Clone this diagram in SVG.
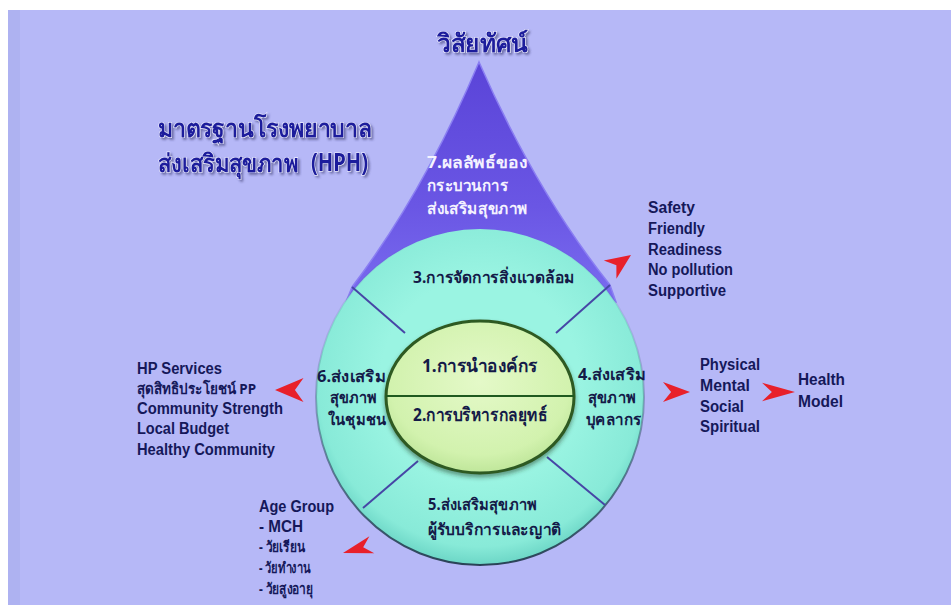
<svg xmlns="http://www.w3.org/2000/svg" width="951" height="605" viewBox="0 0 951 605">
  <defs>
    <linearGradient id="triFill" x1="0" y1="0" x2="0" y2="1">
      <stop offset="0" stop-color="#5a44d8"/>
      <stop offset="0.6" stop-color="#6a56e4"/>
      <stop offset="1" stop-color="#7a6cf0"/>
    </linearGradient>
    <radialGradient id="ringFill" cx="0.5" cy="0.45" r="0.55">
      <stop offset="0.55" stop-color="#9af4e2"/>
      <stop offset="0.9" stop-color="#88ead8"/>
      <stop offset="1" stop-color="#6cd6c6"/>
    </radialGradient>
    <linearGradient id="ringEdge" x1="0" y1="0" x2="0" y2="1">
      <stop offset="0" stop-color="#2a4660" stop-opacity="0"/>
      <stop offset="0.35" stop-color="#2a4660" stop-opacity="0.15"/>
      <stop offset="1" stop-color="#1e3448" stop-opacity="0.9"/>
    </linearGradient>
    <radialGradient id="coreFill" cx="0.5" cy="0.4" r="0.6">
      <stop offset="0" stop-color="#e4f9c8"/>
      <stop offset="0.8" stop-color="#d2f2ae"/>
      <stop offset="1" stop-color="#bfe69a"/>
    </radialGradient>
    <filter id="titleShadow" x="-10%" y="-20%" width="120%" height="150%">
      <feDropShadow dx="2" dy="2" stdDeviation="1" flood-color="#3a3a70" flood-opacity="0.55"/>
    </filter>
    <filter id="coreShadow" x="-10%" y="-10%" width="120%" height="130%">
      <feDropShadow dx="0" dy="3" stdDeviation="2" flood-color="#1e3a20" flood-opacity="0.5"/>
    </filter>
    <!-- arrowhead pointing right, tip at the origin -->
    <path id="arrowHead" d="M0,0 L-30,-11 L-21,0 L-30,11 Z"/>
    <style>
      .bg { fill: #b6b8f7; }
      .th { font-family: "Noto Sans", "DejaVu Sans", sans-serif; font-weight: bold; }
      .title { font-size: 25px; fill: #1e1e9c; stroke: #f0f0ff; stroke-width: 1.2; paint-order: stroke; filter: url(#titleShadow); }
      .tri-label { font-size: 16px; fill: #f4f2ff; }
      .ring-label { font-size: 16px; fill: #141a48; }
      .core-label { font-size: 18px; fill: #141a48; }
      .en { font-family: "Liberation Sans", Arial, sans-serif; font-weight: bold; font-size: 16px; fill: #15185a; }
      .list-th { font-family: "Noto Sans", "DejaVu Sans", sans-serif; font-weight: bold; font-size: 15px; fill: #15185a; }
      .divider { stroke: #4646a6; stroke-width: 2; fill: none; }
      .arrow { fill: #e8202a; }
    </style>
  </defs>

  <!-- page -->
  <rect x="0" y="0" width="951" height="605" fill="#ffffff"/>
  <rect class="bg" x="8" y="10" width="943" height="595"/>
  <rect x="8" y="10" width="12" height="595" fill="#aeb2f1"/>

  <!-- 7: outcome triangle -->
  <g id="node-7">
    <path d="M479,62 Q424,192 352,287 L346,302 L616,302 L610,285 Q536,192 479,62 Z" fill="url(#triFill)" stroke="#8a7ef2" stroke-width="1.5"/>
    <text class="th tri-label" x="427" y="168" textLength="101" lengthAdjust="spacingAndGlyphs">7.ผลลัพธ์ของ</text>
    <text class="th tri-label" x="427" y="191" textLength="81" lengthAdjust="spacingAndGlyphs">กระบวนการ</text>
    <text class="th tri-label" x="427" y="214" textLength="101" lengthAdjust="spacingAndGlyphs">ส่งเสริมสุขภาพ</text>
  </g>

  <!-- outer ring: sectors 3 to 6 -->
  <g id="ring">
    <ellipse cx="480" cy="397" rx="164" ry="168" fill="url(#ringFill)"/>
    <ellipse cx="480" cy="397" rx="164" ry="168" fill="none" stroke="url(#ringEdge)" stroke-width="2"/>
    <line class="divider" x1="352" y1="287" x2="405" y2="333"/>
    <line class="divider" x1="610" y1="285" x2="556" y2="333"/>
    <line class="divider" x1="363" y1="508" x2="418" y2="461"/>
    <line class="divider" x1="605" y1="505" x2="547" y2="457"/>
  </g>
  <g id="node-3">
    <text class="th ring-label" x="413" y="283" textLength="162" lengthAdjust="spacingAndGlyphs">3.การจัดการสิ่งแวดล้อม</text>
  </g>
  <g id="node-4">
    <text class="th ring-label" x="578" y="380" textLength="68" lengthAdjust="spacingAndGlyphs">4.ส่งเสริม</text>
    <text class="th ring-label" x="588" y="403" textLength="48" lengthAdjust="spacingAndGlyphs">สุขภาพ</text>
    <text class="th ring-label" x="586" y="425" textLength="56" lengthAdjust="spacingAndGlyphs">บุคลากร</text>
  </g>
  <g id="node-5">
    <text class="th ring-label" x="428" y="510" textLength="109" lengthAdjust="spacingAndGlyphs">5.ส่งเสริมสุขภาพ</text>
    <text class="th ring-label" x="428" y="535" textLength="133" lengthAdjust="spacingAndGlyphs">ผู้รับบริการและญาติ</text>
  </g>
  <g id="node-6">
    <text class="th ring-label" x="317" y="382" textLength="69" lengthAdjust="spacingAndGlyphs">6.ส่งเสริม</text>
    <text class="th ring-label" x="330" y="403" textLength="47" lengthAdjust="spacingAndGlyphs">สุขภาพ</text>
    <text class="th ring-label" x="328" y="425" textLength="58" lengthAdjust="spacingAndGlyphs">ในชุมชน</text>
  </g>

  <!-- core: sectors 1 and 2 -->
  <g id="core">
    <ellipse cx="480" cy="397" rx="94" ry="76" fill="url(#coreFill)" stroke="#2e5a24" stroke-width="3" filter="url(#coreShadow)"/>
    <line x1="386" y1="396" x2="574" y2="396" stroke="#1f5a1f" stroke-width="2"/>
  </g>
  <g id="node-1">
    <text class="th core-label" x="422" y="372" textLength="116" lengthAdjust="spacingAndGlyphs">1.การนำองค์กร</text>
  </g>
  <g id="node-2">
    <text class="th core-label" x="413" y="421" textLength="134" lengthAdjust="spacingAndGlyphs">2.การบริหารกลยุทธ์</text>
  </g>

  <!-- titles -->
  <g id="vision-title">
    <text class="th title" x="437" y="52" font-size="27" textLength="91" lengthAdjust="spacingAndGlyphs">วิสัยทัศน์</text>
  </g>
  <g id="hph-title">
    <text class="th title" x="158" y="137" textLength="214" lengthAdjust="spacingAndGlyphs">มาตรฐานโรงพยาบาล</text>
    <text class="th title" x="158" y="172" textLength="140" lengthAdjust="spacingAndGlyphs">ส่งเสริมสุขภาพ</text>
    <text class="th title" x="311" y="171" font-size="18" textLength="57" lengthAdjust="spacingAndGlyphs">(HPH)</text>
  </g>

  <!-- outcome lists -->
  <g id="env-list">
    <text class="en" x="648" y="213" textLength="47" lengthAdjust="spacingAndGlyphs">Safety</text>
    <text class="en" x="648" y="234" textLength="57" lengthAdjust="spacingAndGlyphs">Friendly</text>
    <text class="en" x="648" y="255" textLength="74" lengthAdjust="spacingAndGlyphs">Readiness</text>
    <text class="en" x="648" y="275" textLength="85" lengthAdjust="spacingAndGlyphs">No pollution</text>
    <text class="en" x="648" y="296" textLength="78" lengthAdjust="spacingAndGlyphs">Supportive</text>
  </g>
  <g id="staff-list">
    <text class="en" x="700" y="370" textLength="60" lengthAdjust="spacingAndGlyphs">Physical</text>
    <text class="en" x="700" y="391" textLength="50" lengthAdjust="spacingAndGlyphs">Mental</text>
    <text class="en" x="700" y="412" textLength="44" lengthAdjust="spacingAndGlyphs">Social</text>
    <text class="en" x="700" y="432" textLength="60" lengthAdjust="spacingAndGlyphs">Spiritual</text>
  </g>
  <g id="health-model">
    <text class="en" x="798" y="385" textLength="47" lengthAdjust="spacingAndGlyphs">Health</text>
    <text class="en" x="798" y="407" textLength="45" lengthAdjust="spacingAndGlyphs">Model</text>
  </g>
  <g id="community-list">
    <text class="en" x="137" y="374" textLength="85" lengthAdjust="spacingAndGlyphs">HP Services</text>
    <text class="list-th" x="137" y="394" textLength="119" lengthAdjust="spacingAndGlyphs">สุดสิทธิประโยชน์ PP</text>
    <text class="en" x="137" y="414" textLength="146" lengthAdjust="spacingAndGlyphs">Community Strength</text>
    <text class="en" x="137" y="434" textLength="92" lengthAdjust="spacingAndGlyphs">Local Budget</text>
    <text class="en" x="137" y="455" textLength="138" lengthAdjust="spacingAndGlyphs">Healthy Community</text>
  </g>
  <g id="age-list">
    <text class="en" x="259" y="512" textLength="75" lengthAdjust="spacingAndGlyphs">Age Group</text>
    <text class="en" x="259" y="532" textLength="44" lengthAdjust="spacingAndGlyphs">- MCH</text>
    <text class="list-th" x="259" y="552" font-size="16" textLength="46" lengthAdjust="spacingAndGlyphs">- วัยเรียน</text>
    <text class="list-th" x="259" y="573" font-size="16" textLength="51" lengthAdjust="spacingAndGlyphs">- วัยทำงาน</text>
    <text class="list-th" x="259" y="594" font-size="16" textLength="54" lengthAdjust="spacingAndGlyphs">- วัยสูงอายุ</text>
  </g>

  <!-- connectors: free-standing arrowheads -->
  <g id="connectors" class="arrow">
    <use href="#arrowHead" transform="translate(631,255) rotate(-35) scale(0.85,1.0)"/>
    <use href="#arrowHead" transform="translate(275,390) rotate(180) scale(0.95,1.1)"/>
    <use href="#arrowHead" transform="translate(690,392) scale(0.9,0.9)"/>
    <use href="#arrowHead" transform="translate(795,392) scale(1.1,0.85)"/>
    <use href="#arrowHead" transform="translate(343,553) rotate(164) scale(1.0,0.8)"/>
  </g>
</svg>
